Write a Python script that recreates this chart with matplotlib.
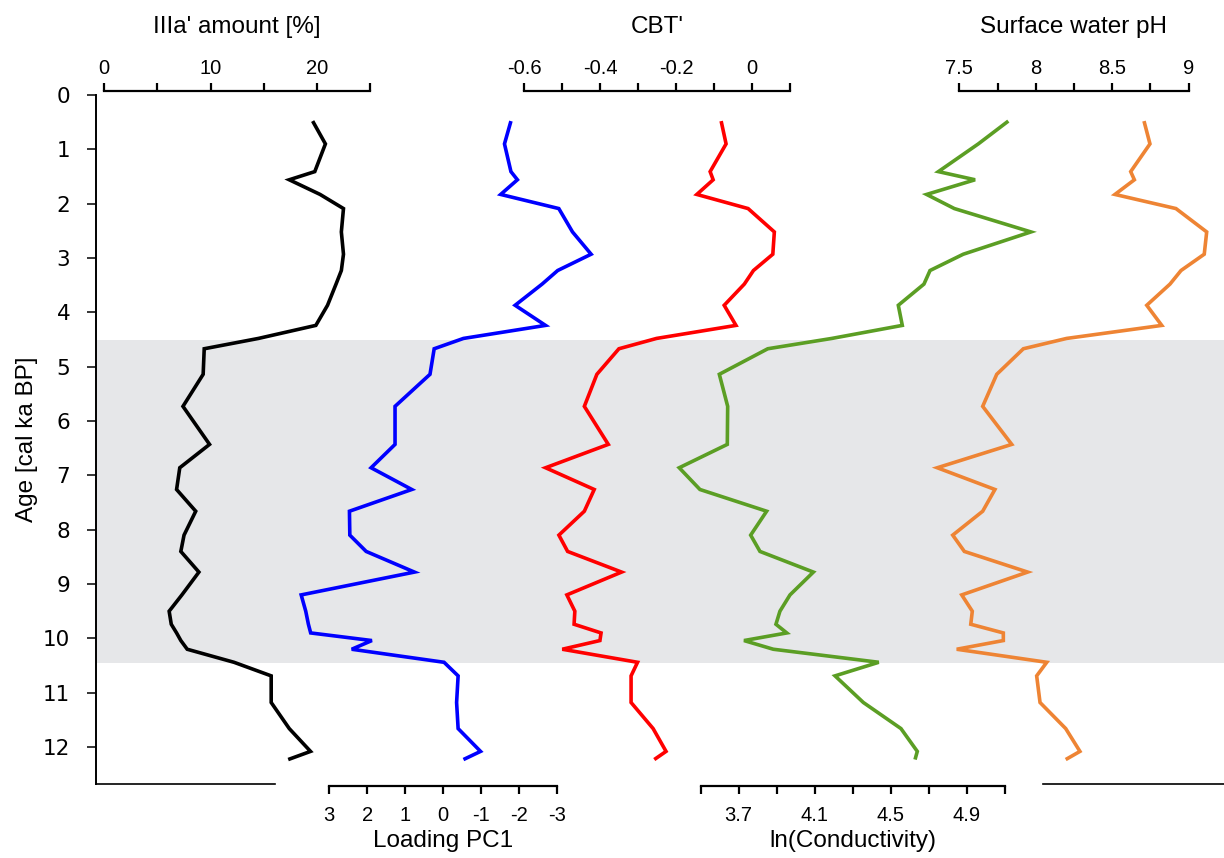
import matplotlib.pyplot as plt

plt.rcParams['font.family'] = ['Liberation Sans', 'DejaVu Sans']

# sample ages (cal ka BP), shared by every proxy
age = [0.48, 0.90, 1.41, 1.56, 1.83, 2.09, 2.52, 2.93, 3.23, 3.48,
       3.87, 4.24, 4.48, 4.67, 5.14, 5.73, 6.43, 6.86, 7.26, 7.66,
       8.10, 8.40, 8.78, 9.20, 9.50, 9.74, 9.90, 10.04, 10.20, 10.44,
       10.69, 11.18, 11.66, 12.08, 12.23]

# IIIa' amount [%]
iiia = [19.6, 20.8, 19.8, 17.4, 20.3, 22.5, 22.3, 22.5, 22.3, 21.8,
        21.0, 19.9, 14.5, 9.4, 9.3, 7.4, 9.9, 7.1, 6.8, 8.6,
        7.5, 7.2, 8.9, 7.3, 6.1, 6.3, 6.8, 7.2, 7.8, 12.2,
        15.7, 15.7, 17.4, 19.4, 17.3]

# Loading PC1
pc1 = [-1.78, -1.61, -1.78, -1.95, -1.51, -3.04, -3.40, -3.89, -3.01, -2.60,
       -1.89, -2.69, -0.53, 0.24, 0.35, 1.27, 1.27, 1.90, 0.83, 2.47,
       2.46, 2.03, 0.76, 3.74, 3.62, 3.55, 3.49, 1.88, 2.41, -0.02,
       -0.39, -0.35, -0.39, -0.98, -0.53]

# CBT'
cbt = [-0.082, -0.069, -0.111, -0.103, -0.146, -0.011, 0.058, 0.054, 0.003, -0.021,
       -0.074, -0.043, -0.252, -0.351, -0.409, -0.442, -0.379, -0.544, -0.416, -0.442,
       -0.509, -0.486, -0.344, -0.488, -0.467, -0.469, -0.398, -0.401, -0.500, -0.302,
       -0.319, -0.319, -0.261, -0.227, -0.258]

# ln(Conductivity)
cond = [5.119, 4.961, 4.751, 4.944, 4.689, 4.835, 5.238, 4.882, 4.707, 4.675,
        4.540, 4.561, 4.190, 3.853, 3.598, 3.642, 3.640, 3.387, 3.496, 3.847,
        3.763, 3.812, 4.093, 3.970, 3.917, 3.896, 3.953, 3.728, 3.882, 4.437,
        4.207, 4.356, 4.554, 4.640, 4.628]

# Surface water pH
ph = [8.708, 8.747, 8.621, 8.645, 8.518, 8.917, 9.118, 9.102, 8.950, 8.878,
      8.726, 8.824, 8.202, 7.919, 7.745, 7.653, 7.843, 7.356, 7.733, 7.653,
      7.457, 7.533, 7.947, 7.516, 7.585, 7.575, 7.788, 7.788, 7.483, 8.072,
      8.006, 8.028, 8.196, 8.289, 8.196]

age_ticks = list(range(13))
shaded = (4.5, 10.45)

iiia_ticks = [0, 5, 10, 15, 20, 25]
iiia_labels = ['0', '', '10', '', '20', '']
pc1_ticks = [3, 2, 1, 0, -1, -2, -3]
pc1_labels = ['3', '2', '1', '0', '-1', '-2', '-3']
cbt_ticks = [-0.6, -0.5, -0.4, -0.3, -0.2, -0.1, 0.0, 0.1]
cbt_labels = ['-0.6', '', '-0.4', '', '-0.2', '', '0', '']
cond_ticks = [3.5, 3.7, 3.9, 4.1, 4.3, 4.5, 4.7, 4.9, 5.1]
cond_labels = ['', '3.7', '', '4.1', '', '4.5', '', '4.9', '']
ph_ticks = [7.5, 7.75, 8.0, 8.25, 8.5, 8.75, 9.0]
ph_labels = ['7.5', '', '8', '', '8.5', '', '9']

W, H = 1224, 858
L, R, T, B = 96, 1224, 95, 784   # plot box in pixels

fig = plt.figure(figsize=(W / 100, H / 100), dpi=100)
ax = fig.add_axes([L / W, 1 - B / H, (R - L) / W, (B - T) / H])
ax.set_ylim(12.68, 0)
ax.set_xlim(0, 1)
ax.set_xticks([])
ax.axhspan(*shaded, color='#e6e7e9', lw=0, zorder=0)
for s in ['top', 'right', 'bottom']:
    ax.spines[s].set_visible(False)
ax.spines['left'].set_linewidth(1.4)
ax.axhline(12.68, 0, (275 - L) / (R - L), color='black', lw=1.2, clip_on=False)
ax.axhline(12.68, (1043 - L) / (R - L), 1, color='black', lw=1.2, clip_on=False)
ax.set_yticks(age_ticks)
ax.tick_params(axis='y', direction='out', length=6.5, width=1.1, labelsize=15.5,
               pad=12, labelfontfamily='DejaVu Sans')
ax.set_ylabel('Age [cal ka BP]', fontsize=17.5)
ax.yaxis.set_label_coords((38 - L) / (R - L), 0.5)


def add_scale(values, color, ref_px, ref_val, px_per_unit, side, ticks, labels, title):
    a = ax.twiny()
    a.set_xlim(ref_val + (L - ref_px) / px_per_unit, ref_val + (R - ref_px) / px_per_unit)
    a.plot(values, age, color=color, lw=2.6, solid_joinstyle='miter', solid_capstyle='butt')
    for s in a.spines.values():
        s.set_visible(False)
    sp = a.spines[side]
    sp.set_visible(True)
    sp.set_linewidth(1.6)
    sp.set_bounds(min(ticks), max(ticks))
    if side == 'top':
        sp.set_position(('outward', 3))
        pad, y0, dy = 3.6, 1, 44.6
    else:
        a.xaxis.tick_bottom()
        sp.set_position(('outward', 1.5))
        pad, y0, dy = 8.5, 0, -45.5
    a.set_xticks(ticks)
    a.set_xticklabels(labels)
    a.tick_params(axis='x', direction='out', length=5.5, width=1.6, labelsize=14.5, pad=pad)
    mid = (min(ticks) + max(ticks)) / 2
    a.annotate(title, xy=(mid, y0), xycoords=('data', 'axes fraction'),
               xytext=(0, dy), textcoords='offset points',
               ha='center', va='baseline', fontsize=17.5)
    return a


add_scale(iiia, 'black', 104.3, 0, 10.63, 'top', iiia_ticks, iiia_labels, "IIIa' amount [%]")
add_scale(pc1, '#0000ff', 443.3, 0, -38, 'bottom', pc1_ticks, pc1_labels, 'Loading PC1')
add_scale(cbt, '#ff0000', 752.3, 0, 380, 'top', cbt_ticks, cbt_labels, "CBT'")
add_scale(cond, '#5b9e24', 700.7, 3.5, 190, 'bottom', cond_ticks, cond_labels, 'ln(Conductivity)')
add_scale(ph, '#ee8434', 959.3, 7.5, 152.9, 'top', ph_ticks, ph_labels, 'Surface water pH')

fig.savefig('out.png', dpi=100)
